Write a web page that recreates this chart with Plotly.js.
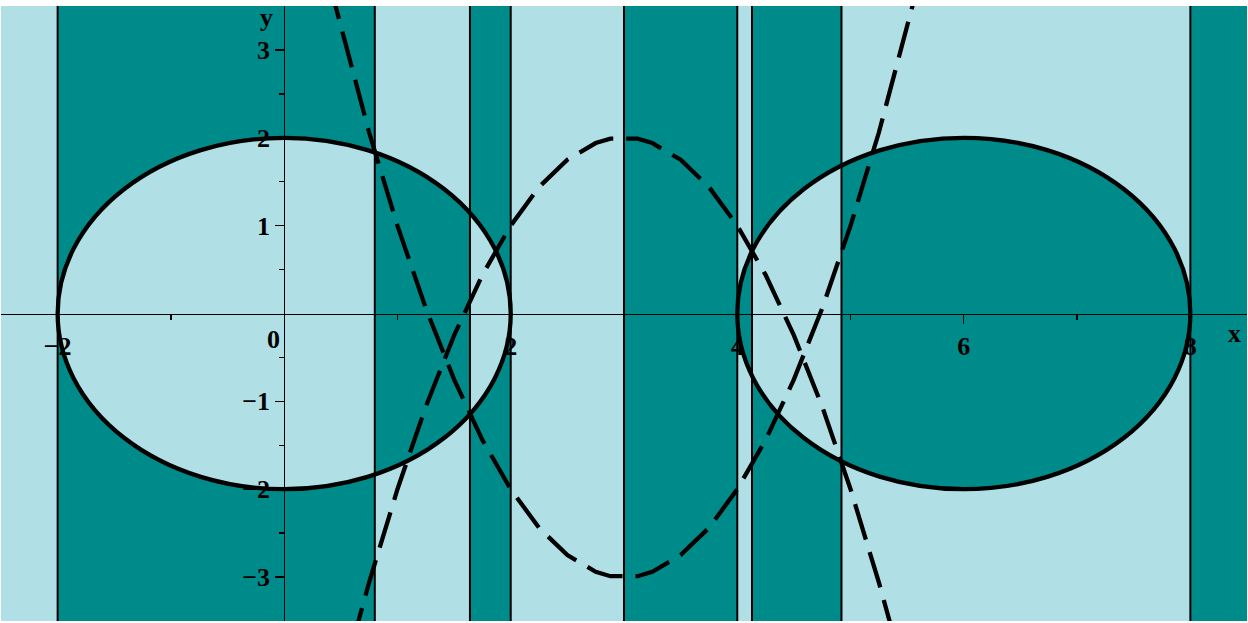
<!DOCTYPE html>
<html>
<head>
<meta charset="utf-8">
<script src="https://cdn.plot.ly/plotly-3.0.1.min.js"></script>
<style>
  body { margin: 0; background: white; }
  #myDiv { width: 1248px; height: 623px; }
</style>
</head>
<body>
<div id="myDiv"></div>
<script>
  // x positions where the shading flips (teal starts at the first one)
  var bandEdges = [-2, 0.8, 1.64, 2, 3, 4, 4.13, 4.92, 8];

  // the two solid circles
  var circleX = [0, 6];
  var circleY = [0, 0];
  var circleR = [2, 2];

  // dashed curves, points
  var bowlX = [0.4, 0.75, 1, 1.25, 1.5, 1.75, 2, 2.25, 2.5, 2.75, 2.88, 3.12, 3.25, 3.5, 3.75, 4, 4.25, 4.5, 4.75, 5, 5.25, 5.6];
  var bowlY = [3.76, 2.06, 1, 0.06, -0.75, -1.44, -2, -2.44, -2.75, -2.94, -2.99, -2.99, -2.94, -2.75, -2.44, -2, -1.44, -0.75, 0.06, 1, 2.06, 3.76];
  var capX = [0.6, 0.75, 1, 1.25, 1.5, 1.75, 2, 2.25, 2.5, 2.75, 2.88, 3.12, 3.25, 3.5, 3.75, 4, 4.25, 4.5, 4.75, 5, 5.25, 5.4];
  var capY = [-3.76, -3.06, -2, -1.06, -0.25, 0.44, 1, 1.44, 1.75, 1.94, 1.99, 1.99, 1.94, 1.75, 1.44, 1, 0.44, -0.25, -1.06, -2, -3.06, -3.76];

  // ticks
  var xTicks = [-2, 2, 4, 6, 8];
  var xMinor = [-1, 1, 3, 5, 7];
  var yTicks = [-3, -2, -1, 1, 2, 3];
  var yMinor = [-2.5, -1.5, -0.5, 0.5, 1.5, 2.5];

  var xRange = [-2.5, 8.5];
  var yRange = [-3.5, 3.5];

  var teal = '#008B8B';
  var pale = '#B0E0E6';
  var labelFont = {family: 'Liberation Serif', size: 26, color: 'black', weight: 'bold'};

  // bezier circle, in data units
  var k = 0.5523;
  function circlePath(cx, cy, r) {
    var p = 'M' + (cx + r) + ',' + cy;
    p += ' C' + (cx + r) + ',' + (cy + k * r) + ' ' + (cx + k * r) + ',' + (cy + r) + ' ' + cx + ',' + (cy + r);
    p += ' C' + (cx - k * r) + ',' + (cy + r) + ' ' + (cx - r) + ',' + (cy + k * r) + ' ' + (cx - r) + ',' + cy;
    p += ' C' + (cx - r) + ',' + (cy - k * r) + ' ' + (cx - k * r) + ',' + (cy - r) + ' ' + cx + ',' + (cy - r);
    p += ' C' + (cx + k * r) + ',' + (cy - r) + ' ' + (cx + r) + ',' + (cy - k * r) + ' ' + (cx + r) + ',' + cy + ' Z ';
    return p;
  }

  // teal bands xor circles -> one evenodd path
  var lo = yRange[0] - 1;
  var hi = yRange[1] + 1;
  var fillPath = '';
  for (let i = 0; i < bandEdges.length; i += 2) {
    let a = bandEdges[i];
    let b = (i + 1 < bandEdges.length) ? bandEdges[i + 1] : xRange[1] + 1;
    fillPath += 'M' + a + ',' + lo + ' L' + b + ',' + lo + ' L' + b + ',' + hi + ' L' + a + ',' + hi + ' Z ';
  }
  for (let i = 0; i < circleX.length; i++) {
    fillPath += circlePath(circleX[i], circleY[i], circleR[i]);
  }

  var shapes = [{
    type: 'path', xref: 'x', yref: 'y', path: fillPath,
    fillcolor: teal, fillrule: 'evenodd', line: {width: 0}, layer: 'below'
  }];

  for (let i = 0; i < bandEdges.length; i++) {
    shapes.push({
      type: 'line', xref: 'x', yref: 'y',
      x0: bandEdges[i], x1: bandEdges[i], y0: yRange[0], y1: yRange[1],
      line: {color: 'black', width: 2}, layer: 'below'
    });
  }

  for (let i = 0; i < circleX.length; i++) {
    shapes.push({
      type: 'circle', xref: 'x', yref: 'y',
      x0: circleX[i] - circleR[i], x1: circleX[i] + circleR[i],
      y0: circleY[i] - circleR[i], y1: circleY[i] + circleR[i],
      line: {color: 'black', width: 4.3}, layer: 'above'
    });
  }

  var dashLine = {color: 'black', width: 4.3, dash: '37px,13px'};

  var trace1 = {
    x: bowlX, y: bowlY, mode: 'lines', type: 'scatter',
    line: dashLine, hoverinfo: 'skip'
  };
  var trace2 = {
    x: capX, y: capY, mode: 'lines', type: 'scatter',
    line: dashLine, hoverinfo: 'skip'
  };

  var layout = {
    width: 1248,
    height: 623,
    margin: {l: 1, r: 1, t: 6, b: 2, pad: 0},
    paper_bgcolor: 'white',
    plot_bgcolor: pale,
    showlegend: false,
    font: labelFont,
    shapes: shapes,
    xaxis: {
      range: xRange,
      anchor: 'free',
      position: (0 - yRange[0]) / (yRange[1] - yRange[0]),
      showgrid: false,
      zeroline: false,
      showline: true,
      linecolor: 'black',
      linewidth: 1.3,
      tickmode: 'array',
      tickvals: xTicks,
      ticks: 'outside',
      ticklen: 9,
      tickwidth: 1.3,
      tickcolor: 'black',
      tickfont: labelFont,
      minor: {tickmode: 'array', tickvals: xMinor, ticks: 'outside', ticklen: 5, tickwidth: 1.3, tickcolor: 'black'},
      layer: 'above traces'
    },
    yaxis: {
      range: yRange,
      anchor: 'free',
      position: (0 - xRange[0]) / (xRange[1] - xRange[0]),
      showgrid: false,
      zeroline: false,
      showline: true,
      linecolor: 'black',
      linewidth: 1.3,
      tickmode: 'array',
      tickvals: yTicks,
      ticks: 'outside',
      ticklen: 9,
      tickwidth: 1.3,
      tickcolor: 'black',
      tickfont: labelFont,
      minor: {tickmode: 'array', tickvals: yMinor, ticks: 'outside', ticklen: 5, tickwidth: 1.3, tickcolor: 'black'},
      layer: 'above traces'
    },
    annotations: [
      {text: 'x', xref: 'paper', yref: 'paper', x: 0.990, y: 0.4667, xanchor: 'center', yanchor: 'middle', showarrow: false, font: labelFont},
      {text: 'y', xref: 'paper', yref: 'paper', x: 0.2127, y: 0.982, xanchor: 'center', yanchor: 'middle', showarrow: false, font: labelFont},
      {text: '0', xref: 'paper', yref: 'paper', x: 0.2187, y: 0.4585, xanchor: 'center', yanchor: 'middle', showarrow: false, font: labelFont}
    ]
  };

  Plotly.newPlot('myDiv', [trace1, trace2], layout, {displayModeBar: false, staticPlot: true});
</script>
</body>
</html>
